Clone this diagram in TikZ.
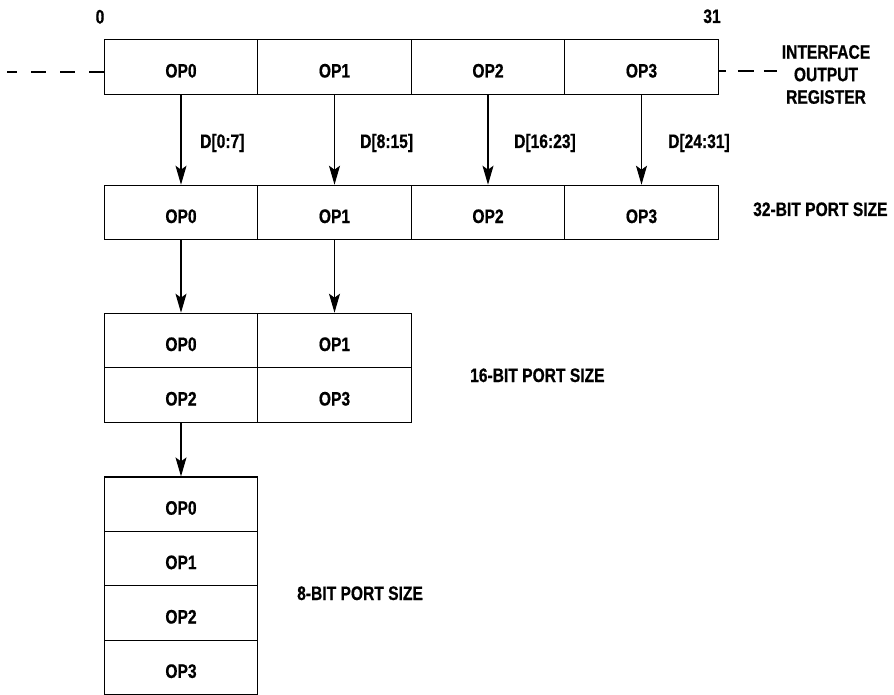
\documentclass[tikz,border=0pt]{standalone}
\usepackage{fontspec}
\setmainfont{Liberation Sans}[FakeStretch=0.8, BoldFeatures={FakeBold=0.6}]
\usetikzlibrary{arrows.meta}
\begin{document}
\begin{tikzpicture}[x=1pt,y=-1pt,
  every node/.style={font=\fontsize{19.5}{22.5}\selectfont\bfseries},
  cell/.style={draw, line width=1.1pt, minimum width=153.5pt, minimum height=54.5pt, inner sep=0pt, text height=21pt, text depth=0pt},
  lbl/.style={inner sep=0pt, text height=14pt, text depth=0pt},
  arr/.style={line width=1.1pt, -{Stealth[length=19pt,width=11pt,inset=4pt]}},
  dline/.style={line width=1.1pt}
]
\useasboundingbox (0,0) rectangle (894,695);
% interface output register
\node[cell] (r0) at (181,67) {OP0};
\node[cell] (r1) at (334.5,67) {OP1};
\node[cell] (r2) at (488,67) {OP2};
\node[cell] (r3) at (641.5,67) {OP3};
% 32-bit
\node[cell] (a0) at (181,212.5) {OP0};
\node[cell] (a1) at (334.5,212.5) {OP1};
\node[cell] (a2) at (488,212.5) {OP2};
\node[cell] (a3) at (641.5,212.5) {OP3};
% 16-bit
\node[cell] (b0) at (181,340.5) {OP0};
\node[cell] (b1) at (334.5,340.5) {OP1};
\node[cell] (b2) at (181,395) {OP2};
\node[cell] (b3) at (334.5,395) {OP3};
% 8-bit
\node[cell] (c0) at (181,504.2) {OP0};
\node[cell] (c1) at (181,558.6) {OP1};
\node[cell] (c2) at (181,613) {OP2};
\node[cell] (c3) at (181,667.4) {OP3};
% arrows
\draw[arr] (r0) -- (a0);
\draw[arr] (r1) -- (a1);
\draw[arr] (r2) -- (a2);
\draw[arr] (r3) -- (a3);
\draw[arr] (a0) -- (b0);
\draw[arr] (a1) -- (b1);
\draw[arr] (b2) -- (c0);
% dashed continuation lines
\coordinate (lend) at (7,72);
\coordinate (rend) at (777,71);
\draw[dline, dash pattern=on 15pt off 14pt] ([yshift=-5pt]r0.west) -- (lend);
\draw[dline, dash pattern=on 7pt off 12pt on 16pt off 10pt on 14pt off 20pt] ([yshift=-4pt]r3.east) -- (rend);
% labels
\node[lbl] (n0) at (100,16.5) {0};
\node[lbl] (n31) at (712,16) {31};
\node[lbl, anchor=west] (d0) at (200,141) {D[0:7]};
\node[lbl, anchor=west] (d1) at (360,141) {D[8:15]};
\node[lbl, anchor=west] (d2) at (514,141) {D[16:23]};
\node[lbl, anchor=west] (d3) at (668,141) {D[24:31]};
\node[inner sep=0pt, align=center] (ior) at (826,74.5) {INTERFACE\\OUTPUT\\REGISTER};
\node[lbl, anchor=west] (p32) at (753,209) {32-BIT PORT SIZE};
\node[lbl, anchor=west] (p16) at (470,375) {16-BIT PORT SIZE};
\node[lbl, anchor=west] (p8) at (297,593) {8-BIT PORT SIZE};
\end{tikzpicture}
\end{document}
